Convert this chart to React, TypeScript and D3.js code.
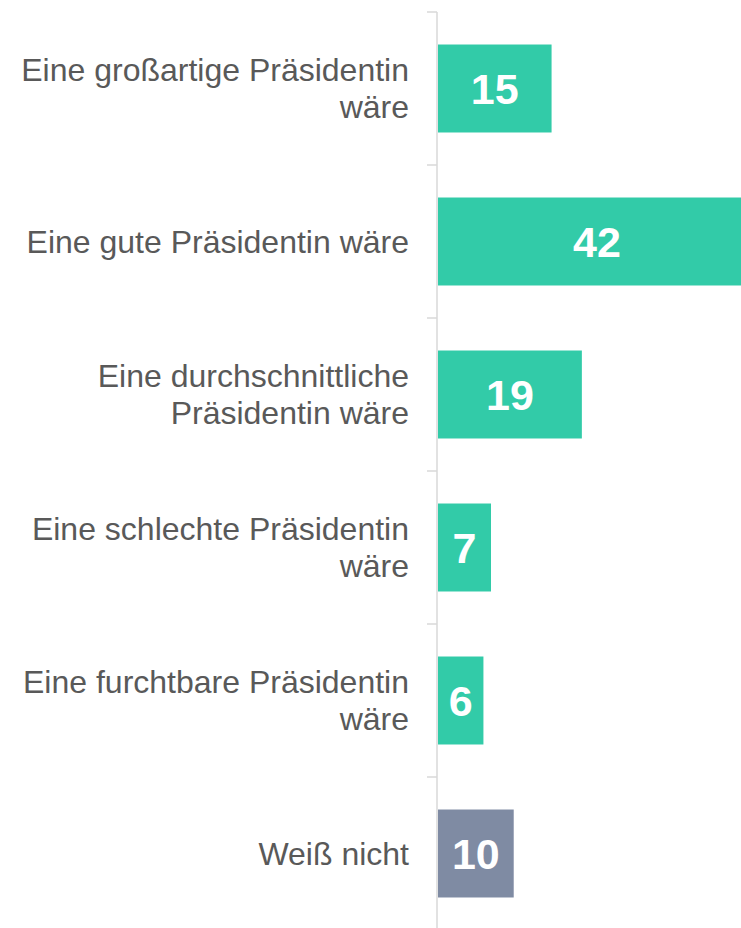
import React, { useEffect, useRef } from "react";
import * as d3 from "d3";

// categories, wrapped the way the reference wraps them
const categories = [
  "Eine großartige Präsidentin wäre",
  "Eine gute Präsidentin wäre",
  "Eine durchschnittliche Präsidentin wäre",
  "Eine schlechte Präsidentin wäre",
  "Eine furchtbare Präsidentin wäre",
  "Weiß nicht",
];
const labelLines = [
  ["Eine großartige Präsidentin", "wäre"],
  ["Eine gute Präsidentin wäre"],
  ["Eine durchschnittliche", "Präsidentin wäre"],
  ["Eine schlechte Präsidentin", "wäre"],
  ["Eine furchtbare Präsidentin", "wäre"],
  ["Weiß nicht"],
];
const values = [15, 42, 19, 7, 6, 10];
const barColors = ["#32cba8", "#32cba8", "#32cba8", "#32cba8", "#32cba8", "#7f8ba3"];

function App() {
  const ref = useRef<SVGSVGElement | null>(null);

  useEffect(() => {
    const width = 741;
    const height = 928;
    const marginLeft = 437;
    const marginTop = 12;
    const step = 153;

    const svg = d3.select(ref.current);
    svg.selectAll("*").remove();

    const y = d3.scaleBand()
      .domain(categories)
      .range([marginTop, marginTop + step * categories.length])
      .paddingInner(0.425)
      .paddingOuter(0.2125);

    const x = d3.scaleLinear([0, 42], [marginLeft + 1, marginLeft + 1 + 318]);

    // axis line + ticks
    const axis = svg.append("g");
    axis.append("line")
      .attr("x1", marginLeft).attr("x2", marginLeft)
      .attr("y1", marginTop).attr("y2", marginTop + step * categories.length)
      .attr("stroke", "#d9d9d9").attr("stroke-width", 1.5);
    d3.range(categories.length + 1).forEach((i) => {
      axis.append("line")
        .attr("x1", marginLeft - 10).attr("x2", marginLeft)
        .attr("y1", marginTop + i * step).attr("y2", marginTop + i * step)
        .attr("stroke", "#d9d9d9").attr("stroke-width", 1.5);
    });

    // bars
    svg.append("g")
      .selectAll("rect")
      .data(values)
      .join("rect")
      .attr("x", x(0))
      .attr("y", (d, i) => y(categories[i])!)
      .attr("width", (d) => x(d) - x(0))
      .attr("height", y.bandwidth())
      .attr("fill", (d, i) => barColors[i]);

    // value labels
    svg.append("g")
      .selectAll("text")
      .data(values)
      .join("text")
      .attr("x", (d) => (x(0) + x(d)) / 2)
      .attr("y", (d, i) => y(categories[i])! + y.bandwidth() / 2)
      .attr("dy", "0.35em")
      .attr("text-anchor", "middle")
      .attr("fill", "#ffffff")
      .attr("font-family", "Liberation Sans, Arial, sans-serif")
      .attr("font-weight", "bold")
      .attr("font-size", 43)
      .text((d) => d);

    // category labels
    const lineHeight = 37;
    const labels = svg.append("g")
      .attr("font-family", "Liberation Sans, Arial, sans-serif")
      .attr("font-size", 32)
      .attr("fill", "#595959")
      .attr("text-anchor", "end");
    categories.forEach((c, i) => {
      const lines = labelLines[i];
      const cy = y(c)! + y.bandwidth() / 2;
      const first = cy - ((lines.length - 1) * lineHeight) / 2 + 11;
      const t = labels.append("text");
      lines.forEach((ln, j) => {
        t.append("tspan")
          .attr("x", 409)
          .attr("y", first + j * lineHeight)
          .text(ln);
      });
    });

    svg.attr("width", width).attr("height", height);
  }, []);

  return (
    <svg
      ref={ref}
      width={741}
      height={928}
      style={{ position: "absolute", left: 0, top: 0, display: "block", background: "#fff" }}
    />
  );
}

export default App;
